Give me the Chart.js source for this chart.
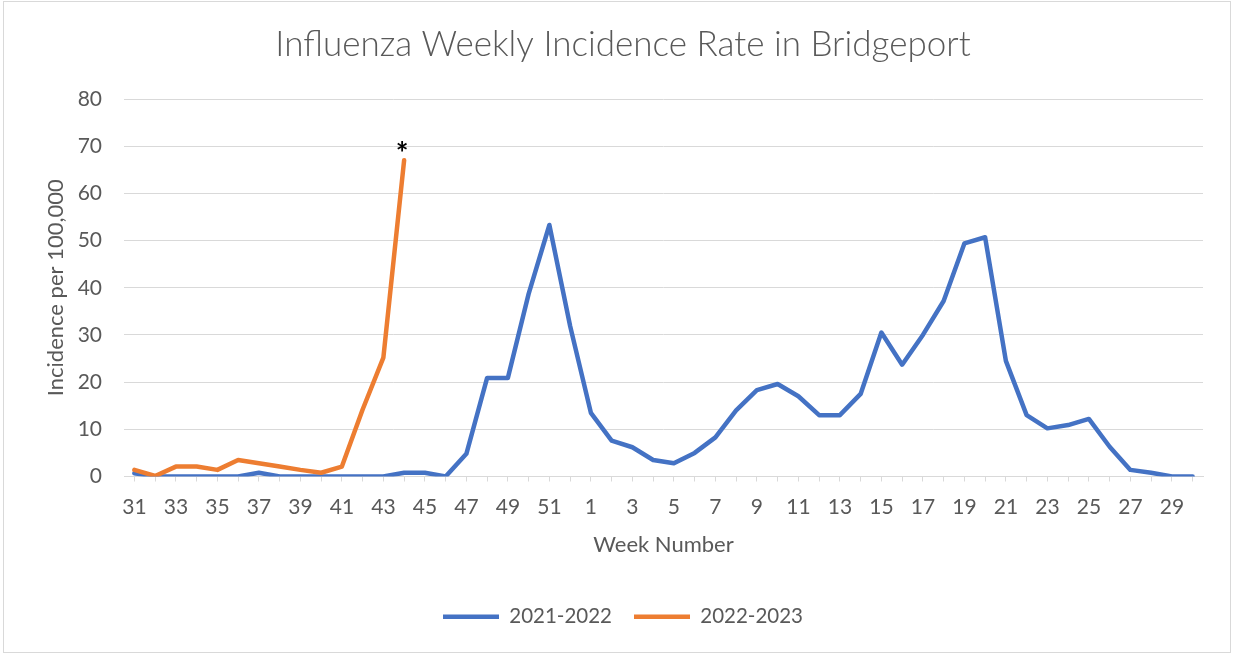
<!DOCTYPE html>
<html>
<head>
<meta charset="utf-8">
<script src="https://cdn.jsdelivr.net/npm/chart.js@4/dist/chart.umd.min.js"></script>
<style>
  html, body { margin: 0; padding: 0; background: #ffffff; }
  #frame { position: absolute; left: 3px; top: 1px; width: 1226px; height: 650px; border: 1px solid #d9d9d9; }
  #c { position: absolute; left: 0; top: 0; }
</style>
</head>
<body>
<div id="frame"></div>
<canvas id="c" width="1233" height="655"></canvas>
<script>
// Week labels (season runs week 31 -> week 30 of next year)
const weeks = [31,32,33,34,35,36,37,38,39,40,41,42,43,44,45,46,47,48,49,50,51,52,
               1,2,3,4,5,6,7,8,9,10,11,12,13,14,15,16,17,18,19,20,21,22,23,24,25,26,27,28,29,30];

// 2021-2022 season incidence per 100,000
const season2021 = [0.7,0,0,0,0,0,0.8,0,0,0,0,0,0,0.8,0.8,0,4.8,20.9,20.9,38.7,53.3,31.9,
                    13.5,7.6,6.2,3.5,2.8,5.0,8.3,14.0,18.3,19.6,17.0,13.0,13.0,17.5,30.5,23.7,30.0,37.2,
                    49.4,50.7,24.5,13.0,10.2,10.9,12.2,6.3,1.4,0.8,0,0];

// 2022-2023 season (data through week 44)
const season2022 = [1.4,0.1,2.1,2.1,1.4,3.5,2.8,2.1,1.4,0.8,2.1,14.2,25.2,67.0];

const yTicks = [0,10,20,30,40,50,60,70,80];
const seriesNames = ['2021-2022', '2022-2023'];
const markerText = '*';
const markerIndex = 13;

const TXT = '#595959';
const GRID = '#d9d9d9';
const FONT = 'Lato, "Open Sans", sans-serif';

const asteriskPlugin = {
  id: 'asterisk',
  afterDatasetsDraw(chart) {
    const meta = chart.getDatasetMeta(0); // 2022-2023 dataset
    const pt = meta.data[markerIndex];
    if (!pt) return;
    const ctx = chart.ctx;
    ctx.save();
    ctx.fillStyle = '#000000';
    ctx.font = 'bold 30px ' + FONT;
    ctx.textAlign = 'center';
    ctx.textBaseline = 'alphabetic';
    ctx.fillText(markerText, pt.x - 2, pt.y + 4);
    ctx.restore();
  }
};

new Chart(document.getElementById('c'), {
  type: 'line',
  data: {
    labels: weeks,
    datasets: [
      {
        label: seriesNames[1],
        data: season2022,
        borderColor: '#ED7D31',
        backgroundColor: '#ED7D31',
        borderWidth: 4.5,
        pointRadius: 0,
        borderCapStyle: 'round',
        borderJoinStyle: 'round',
        tension: 0
      },
      {
        label: seriesNames[0],
        data: season2021,
        borderColor: '#4472C4',
        backgroundColor: '#4472C4',
        borderWidth: 4.5,
        pointRadius: 0,
        borderCapStyle: 'round',
        borderJoinStyle: 'round',
        tension: 0
      }
    ]
  },
  options: {
    responsive: false,
    animation: false,
    devicePixelRatio: 1,
    layout: { padding: { left: 43, right: 30, top: 0, bottom: 18 } },
    plugins: {
      tooltip: { enabled: false },
      title: {
        display: true,
        text: 'Influenza Weekly Incidence Rate in Bridgeport',
        color: TXT,
        font: { family: FONT, size: 35, weight: '300', lineHeight: 1.2 },
        padding: { top: 24, bottom: 33 }
      },
      legend: {
        position: 'bottom',
        reverse: true,
        labels: {
          color: TXT,
          font: { family: FONT, size: 20.5 },
          usePointStyle: true,
          pointStyle: 'line',
          pointStyleWidth: 56,
          boxHeight: 20,
          padding: 22
        }
      }
    },
    scales: {
      x: {
        type: 'category',
        offset: true,
        afterFit(s) { s.height = 108; },
        grid: { display: true, offset: false, drawOnChartArea: false, drawTicks: true, tickLength: 5, color: GRID },
        border: { display: true, color: GRID, width: 1 },
        ticks: {
          autoSkip: false,
          maxRotation: 0,
          color: TXT,
          padding: 13,
          font: { family: FONT, size: 21 },
          callback(v, i) { return i % 2 === 0 ? String(weeks[i]) : ''; }
        },
        title: {
          display: true,
          text: 'Week Number',
          color: TXT,
          font: { family: FONT, size: 22 },
          padding: { top: 0, bottom: 26 }
        }
      },
      y: {
        min: 0,
        max: 80,
        afterFit(s) { s.width = 81; },
        afterBuildTicks(s) { s.ticks = yTicks.map(v => ({ value: v })); },
        grid: { color: GRID, lineWidth: 1, drawTicks: false },
        border: { display: false },
        ticks: {
          color: TXT,
          padding: 22,
          font: { family: FONT, size: 21 }
        },
        title: {
          display: true,
          text: 'Incidence per 100,000',
          color: TXT,
          font: { family: FONT, size: 22 },
          padding: { top: 0, bottom: 0 }
        }
      }
    }
  },
  plugins: [asteriskPlugin]
});
</script>
</body>
</html>
